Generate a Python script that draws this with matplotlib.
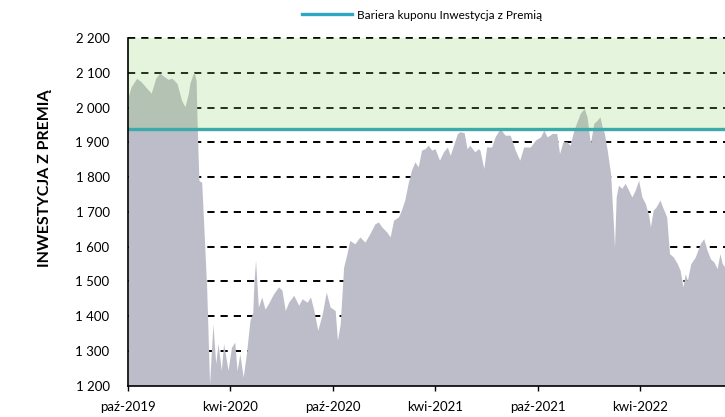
import matplotlib
matplotlib.use("Agg")
import matplotlib.pyplot as plt
from matplotlib.lines import Line2D
from matplotlib.ticker import FuncFormatter
import pandas as pd

plt.rcParams["font.family"] = ["Lato", "DejaVu Sans"]

# index level
dates = [
    "2019-10-02", "2019-10-07", "2019-10-17", "2019-10-25", "2019-11-02", "2019-11-12",
    "2019-11-20", "2019-11-27", "2019-12-05", "2019-12-12", "2019-12-19", "2019-12-28",
    "2020-01-05", "2020-01-11", "2020-01-17", "2020-01-20", "2020-01-27", "2020-01-31",
    "2020-02-02", "2020-02-05", "2020-02-10", "2020-02-14", "2020-02-19", "2020-02-24",
    "2020-03-01", "2020-03-06", "2020-03-10", "2020-03-16", "2020-03-20", "2020-03-28",
    "2020-04-03", "2020-04-09", "2020-04-13", "2020-04-18", "2020-04-24", "2020-04-30",
    "2020-05-06", "2020-05-11", "2020-05-13", "2020-05-16", "2020-05-21", "2020-05-27",
    "2020-06-02", "2020-06-08", "2020-06-17", "2020-06-26", "2020-07-02", "2020-07-08",
    "2020-07-14", "2020-07-23", "2020-08-01", "2020-08-07", "2020-08-16", "2020-08-22",
    "2020-08-28", "2020-09-04", "2020-09-12", "2020-09-19", "2020-09-26", "2020-10-05",
    "2020-10-09", "2020-10-14", "2020-10-20", "2020-10-26", "2020-10-31", "2020-11-09",
    "2020-11-18", "2020-11-27", "2020-12-06", "2020-12-15", "2020-12-21", "2020-12-27",
    "2021-01-05", "2021-01-11", "2021-01-17", "2021-01-26", "2021-01-31", "2021-02-06",
    "2021-02-12", "2021-02-18", "2021-02-24", "2021-03-02", "2021-03-08", "2021-03-14",
    "2021-03-20", "2021-03-26", "2021-04-01", "2021-04-09", "2021-04-16", "2021-04-23",
    "2021-04-28", "2021-05-04", "2021-05-11", "2021-05-16", "2021-05-23", "2021-05-28",
    "2021-06-02", "2021-06-11", "2021-06-17", "2021-06-20", "2021-06-27", "2021-07-02",
    "2021-07-11", "2021-07-17", "2021-07-26", "2021-08-04", "2021-08-13", "2021-08-22",
    "2021-08-30", "2021-09-06", "2021-09-18", "2021-09-27", "2021-10-06", "2021-10-12",
    "2021-10-18", "2021-10-27", "2021-11-04", "2021-11-09", "2021-11-15", "2021-11-22",
    "2021-11-28", "2021-12-03", "2021-12-09", "2021-12-16", "2021-12-23", "2021-12-28",
    "2022-01-03", "2022-01-09", "2022-01-15", "2022-01-20", "2022-01-24", "2022-01-28",
    "2022-02-02", "2022-02-08", "2022-02-13", "2022-02-15", "2022-02-18", "2022-02-22",
    "2022-02-28", "2022-03-06", "2022-03-12", "2022-03-18", "2022-03-24", "2022-03-30",
    "2022-04-05", "2022-04-11", "2022-04-17", "2022-04-20", "2022-04-25", "2022-04-30",
    "2022-05-07", "2022-05-14", "2022-05-19", "2022-05-24", "2022-05-31", "2022-06-07",
    "2022-06-12", "2022-06-17", "2022-06-21", "2022-06-25", "2022-07-01", "2022-07-09",
    "2022-07-18", "2022-07-24", "2022-07-30", "2022-08-05", "2022-08-11", "2022-08-17",
    "2022-08-22", "2022-08-26", "2022-08-31",
]
values = [
    2032, 2060, 2085, 2075, 2060, 2042, 2085, 2100, 2090, 2082, 2085, 2070,
    2022, 2003, 2040, 2071, 2104, 2080, 1945, 1791, 1785, 1650, 1474, 1205,
    1378, 1263, 1321, 1244, 1321, 1244, 1310, 1325, 1243, 1291, 1224, 1296,
    1387, 1410, 1493, 1561, 1426, 1455, 1420, 1436, 1464, 1484, 1475, 1416,
    1440, 1460, 1431, 1450, 1440, 1455, 1416, 1359, 1407, 1469, 1426, 1416,
    1330, 1378, 1541, 1580, 1618, 1608, 1628, 1613, 1638, 1666, 1671, 1657,
    1642, 1628, 1676, 1686, 1705, 1734, 1782, 1820, 1844, 1830, 1878, 1882,
    1892, 1878, 1882, 1849, 1873, 1887, 1863, 1892, 1926, 1931, 1928, 1882,
    1892, 1873, 1882, 1878, 1825, 1887, 1887, 1916, 1940, 1921, 1921, 1878,
    1849, 1887, 1887, 1907, 1916, 1935, 1916, 1926, 1926, 1868, 1902, 1902,
    1892, 1926, 1955, 1984, 1998, 1974, 1897, 1955, 1964, 1974, 1945, 1926,
    1878, 1811, 1666, 1599, 1743, 1777, 1768, 1782, 1763, 1743, 1763, 1791,
    1743, 1724, 1690, 1657, 1705, 1714, 1734, 1705, 1686, 1580, 1570, 1551,
    1532, 1484, 1522, 1503, 1551, 1570, 1609, 1623, 1590, 1565, 1556, 1537,
    1580, 1551, 1541,
]

barrier = 1940
y_ticks = [1200, 1300, 1400, 1500, 1600, 1700, 1800, 1900, 2000, 2100, 2200]
x_ticks = ["2019-10-01", "2020-04-01", "2020-10-01", "2021-04-01", "2021-10-01", "2022-04-01"]
x_labels = ["paź-2019", "kwi-2020", "paź-2020", "kwi-2021", "paź-2021", "kwi-2022"]
y_label = "INWESTYCJA Z PREMIĄ"
legend_label = "Bariera kuponu Inwestycja z Premią"

x = pd.to_datetime(dates)
x0 = pd.Timestamp("2019-10-01")

fig = plt.figure(figsize=(7.25, 4.17), dpi=100)
ax = fig.add_axes([0.1761, 0.0755, 0.8239, 0.8326])

# dashed grid below the area
for v in y_ticks[1:]:
    ax.axhline(v, color="black", lw=1.4, ls=(0, (3.7, 3.1)), zorder=1, clip_on=False)

ax.fill_between(x, values, y_ticks[0], color="#BDBDC9", lw=0, zorder=2)

# coupon zone above the barrier
ax.axhspan(barrier, y_ticks[-1], color="#96D26E", alpha=0.24, lw=0, zorder=3)
ax.axhline(barrier, color="#3AABAA", lw=2.4, zorder=4)

ax.set_xlim(x0, x[-1])
ax.set_ylim(y_ticks[0], y_ticks[-1])

ax.set_yticks(y_ticks)
ax.yaxis.set_major_formatter(FuncFormatter(lambda v, p: f"{int(v):,}".replace(",", " ")))
ax.set_xticks(pd.to_datetime(x_ticks))
ax.set_xticklabels(x_labels)

ax.tick_params(axis="y", length=0, pad=13, labelsize=9.5)
ax.tick_params(axis="x", length=3.5, width=1, direction="out", pad=8, labelsize=9.5)

for s in ["top", "right"]:
    ax.spines[s].set_visible(False)
for s in ["left", "bottom"]:
    ax.spines[s].set_linewidth(1.2)
    ax.spines[s].set_zorder(5)

fig.text(0.062, 0.573, y_label, rotation=90, ha="center", va="center",
         fontsize=11.5, fontweight="bold")

handle = Line2D([], [], color="#2EA6C6", lw=2.4)
fig.legend([handle], [legend_label], loc="center left",
           bbox_to_anchor=(0.409, 0.964), frameon=False, borderpad=0,
           handlelength=4.2, handletextpad=0.4, fontsize=8.5)

fig.savefig("out.png", dpi=100)
